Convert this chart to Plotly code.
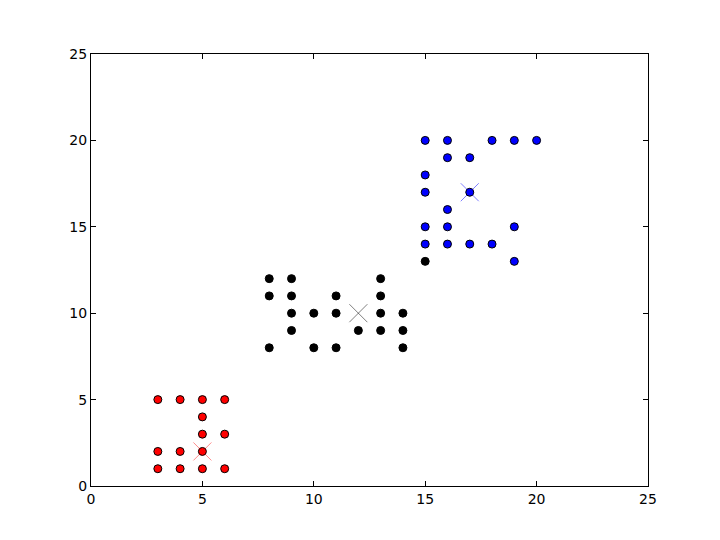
import plotly.graph_objects as go

# Cluster points
red_x = [3, 4, 5, 6, 5, 5, 6, 3, 4, 5, 3, 4, 5, 6]
red_y = [5, 5, 5, 5, 4, 3, 3, 2, 2, 2, 1, 1, 1, 1]

black_x = [8, 9, 13, 8, 9, 11, 13, 9, 10, 11, 13, 14, 9, 12, 13, 14, 8, 10, 11, 14, 15]
black_y = [12, 12, 12, 11, 11, 11, 11, 10, 10, 10, 10, 10, 9, 9, 9, 9, 8, 8, 8, 8, 13]

blue_x = [15, 16, 18, 19, 20, 16, 17, 15, 15, 17, 16, 15, 16, 19, 15, 16, 17, 18, 19]
blue_y = [20, 20, 20, 20, 20, 19, 19, 18, 17, 17, 16, 15, 15, 15, 14, 14, 14, 14, 13]

# Centroids
cent_x = [5, 12, 17]
cent_y = [2, 10, 17]
cent_colors = ["rgba(255,0,0,0.45)", "rgba(0,0,0,0.5)", "rgba(0,0,255,0.5)"]

ticks = [0, 5, 10, 15, 20, 25]

fig = go.Figure()

def add_pts(xs, ys, color):
    fig.add_trace(go.Scatter(
        x=xs, y=ys, mode="markers",
        marker=dict(symbol="circle", size=8, color=color,
                    line=dict(color="black", width=1)),
        showlegend=False, cliponaxis=False,
    ))

add_pts(red_x, red_y, "#ff0000")
add_pts(black_x, black_y, "#000000")
add_pts(blue_x, blue_y, "#0000ff")

for cx, cy, cc in zip(cent_x, cent_y, cent_colors):
    fig.add_trace(go.Scatter(
        x=[cx], y=[cy], mode="markers",
        marker=dict(symbol="x-thin", size=18, color=cc,
                    line=dict(color=cc, width=1)),
        showlegend=False,
    ))

axis_common = dict(
    range=[0, 25], tickvals=ticks, ticktext=[str(t) for t in ticks],
    showgrid=False, zeroline=False, showline=True, linecolor="black",
    linewidth=1, mirror="ticks", ticks="inside", ticklen=5,
    tickcolor="black", tickfont=dict(family="DejaVu Sans", size=14, color="black"),
)

fig.update_layout(
    width=720, height=540,
    margin=dict(l=83, r=80, t=46, b=62),
    paper_bgcolor="white", plot_bgcolor="white",
    xaxis=dict(**axis_common),
    yaxis=dict(**axis_common),
)

fig.write_html("out.html")
